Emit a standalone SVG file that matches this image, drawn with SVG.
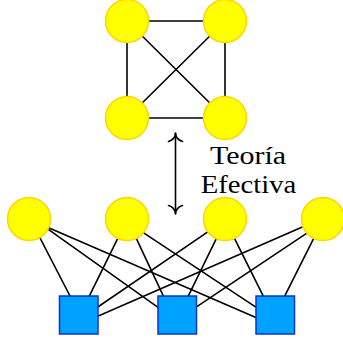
<svg xmlns="http://www.w3.org/2000/svg" width="343" height="342" viewBox="0 0 343 342">
<style>
.e{stroke:#000;stroke-width:1.6;fill:none;stroke-linecap:round}
.c{fill:#FFFF00;stroke:#FFD400;stroke-width:1.5}
.s{fill:#00A2FF;stroke:#0a35cc;stroke-width:1.5}
.t{font-family:"Liberation Serif","Times New Roman",serif;font-size:25.5px;fill:#000;text-anchor:middle}
</style>
<g id="connectors">
<line class="e" x1="127" y1="21" x2="225" y2="21"/>
<line class="e" x1="127" y1="21" x2="127" y2="118"/>
<line class="e" x1="225" y1="21" x2="225" y2="118"/>
<line class="e" x1="127" y1="118" x2="225" y2="118"/>
<line class="e" x1="127" y1="21" x2="225" y2="118"/>
<line class="e" x1="225" y1="21" x2="127" y2="118"/>
<line class="e" x1="29" y1="216.7" x2="78.8" y2="313"/>
<line class="e" x1="29" y1="215.6" x2="177" y2="320.8"/>
<line class="e" x1="29" y1="219.2" x2="275.5" y2="325.9"/>
<line class="e" x1="127" y1="219.7" x2="78.8" y2="317.3"/>
<line class="e" x1="127" y1="218.6" x2="177" y2="325.2"/>
<line class="e" x1="127" y1="221.9" x2="275.5" y2="320.1"/>
<line class="e" x1="225" y1="220.2" x2="78.8" y2="320"/>
<line class="e" x1="225" y1="220.9" x2="177" y2="319.1"/>
<line class="e" x1="225" y1="219.3" x2="275.5" y2="320.7"/>
<line class="e" x1="323" y1="218" x2="78.8" y2="324.5"/>
<line class="e" x1="323" y1="222.4" x2="177" y2="319.8"/>
<line class="e" x1="323" y1="219.9" x2="275.5" y2="314.3"/>
<g id="arrow">
<line class="e" x1="175.5" y1="133.5" x2="175.5" y2="213.5"/>
<path class="e" d="M175.5,133 C175.5,137 172.5,140.5 168.5,141.5 M175.5,133 C175.5,137 178.5,140.5 182.5,141.5"/>
<path class="e" d="M175.5,214 C175.5,210 172.5,206.5 168.5,205.5 M175.5,214 C175.5,210 178.5,206.5 182.5,205.5"/>
</g>
</g>
<g id="top-nodes">
<g id="t1"><circle class="c" cx="127" cy="21" r="21.5"/></g>
<g id="t2"><circle class="c" cx="225" cy="21" r="21.5"/></g>
<g id="t3"><circle class="c" cx="127" cy="118" r="21.5"/></g>
<g id="t4"><circle class="c" cx="225" cy="118" r="21.5"/></g>
</g>
<g id="bottom-nodes">
<g id="b1"><circle class="c" cx="29" cy="219" r="21.5"/></g>
<g id="b2"><circle class="c" cx="127" cy="219" r="21.5"/></g>
<g id="b3"><circle class="c" cx="225" cy="219" r="21.5"/></g>
<g id="b4"><circle class="c" cx="323" cy="219" r="21.5"/></g>
</g>
<g id="squares">
<g id="s1"><rect class="s" x="59.5" y="296" width="38.5" height="38"/></g>
<g id="s2"><rect class="s" x="158" y="296" width="38.5" height="38"/></g>
<g id="s3"><rect class="s" x="256" y="296" width="38.5" height="38"/></g>
</g>
<g id="label">
<text class="t" x="248" y="163.5" textLength="76" lengthAdjust="spacingAndGlyphs">Teoría</text>
<text class="t" x="248.5" y="192.5" textLength="95.5" lengthAdjust="spacingAndGlyphs">Efectiva</text>
</g>
</svg>
